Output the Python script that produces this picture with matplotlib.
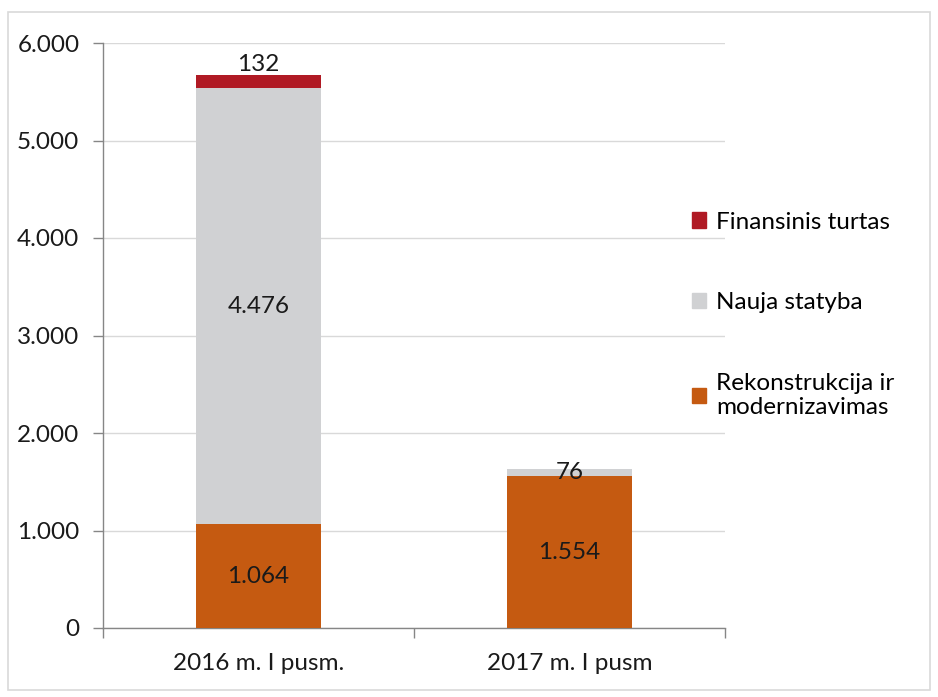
import matplotlib
matplotlib.use("Agg")
import matplotlib.pyplot as plt
from matplotlib.patches import Rectangle, Patch
from matplotlib.ticker import FuncFormatter, FixedLocator

categories = ["2016 m. I pusm.", "2017 m. I pusm"]
series_names = ["Rekonstrukcija ir\nmodernizavimas", "Nauja statyba", "Finansinis turtas"]
rekonstrukcija = [1064, 1554]
nauja_statyba = [4476, 76]
finansinis = [132, 0]
colors = ["#C55A11", "#D0D1D3", "#B01A24"]

plt.rcParams['font.family'] = ['Lato', 'DejaVu Sans']

fig = plt.figure(figsize=(9.38, 6.97), dpi=100)
fig.patches.append(Rectangle((8/938, 1-690/697), 922/938, 678/697, transform=fig.transFigure,
                             fill=False, edgecolor="#D9D9D9", linewidth=1.2))
ax = fig.add_axes([103/938, 1-628/697, 622/938, 585/697])

x = list(range(len(categories)))
width = 0.40
bottoms = [0, 0]
all_series = [rekonstrukcija, nauja_statyba, finansinis]
for vals, col in zip(all_series, colors):
    ax.bar(x, vals, width=width, bottom=bottoms, color=col, zorder=3)
    bottoms = [b + v for b, v in zip(bottoms, vals)]

def fmt(v):
    return f"{v:,}".replace(",", ".")

FS = 17.5
bottoms = [0, 0]
for si, vals in enumerate(all_series):
    for i, v in enumerate(vals):
        if v > 0:
            off = 12 if (si == 2) else 0
            ax.annotate(fmt(v), (x[i], bottoms[i] + v / 2), xytext=(0, off),
                        textcoords="offset points", ha="center", va="center",
                        fontsize=FS, color="#1a1a1a", zorder=5)
    bottoms = [b + v for b, v in zip(bottoms, vals)]

ax.set_xlim(-0.5, 1.5)
ax.set_ylim(0, 6000)
ax.yaxis.set_major_locator(FixedLocator([0, 1000, 2000, 3000, 4000, 5000, 6000]))
ax.yaxis.set_major_formatter(FuncFormatter(lambda v, p: fmt(int(v))))
ax.set_xticks(x)
ax.set_xticklabels(categories)
ax.set_xticks([-0.5, 0.5, 1.5], minor=True)
ax.tick_params(axis="x", which="major", length=0, pad=18, labelsize=FS, labelcolor="#1a1a1a")
ax.tick_params(axis="x", which="minor", length=7, color="#868686", width=1)
ax.tick_params(axis="y", length=7, color="#868686", width=1, pad=10, labelsize=FS, labelcolor="#1a1a1a")
ax.grid(axis="y", color="#D9D9D9", linewidth=1, zorder=0)
for s in ["top", "right"]:
    ax.spines[s].set_visible(False)
for s in ["left", "bottom"]:
    ax.spines[s].set_color("#868686")
    ax.spines[s].set_linewidth(1)

handles = [Patch(facecolor=c, edgecolor=c) for c in colors][::-1]
labels = series_names[::-1]
fig.legend(handles, labels, loc="upper left", bbox_to_anchor=(682/938, 1-202/697),
           frameon=False, fontsize=FS, handlelength=0.6, handleheight=0.6,
           handletextpad=0.4, labelspacing=2.45, borderaxespad=0)

fig.savefig("out.png", dpi=100)
